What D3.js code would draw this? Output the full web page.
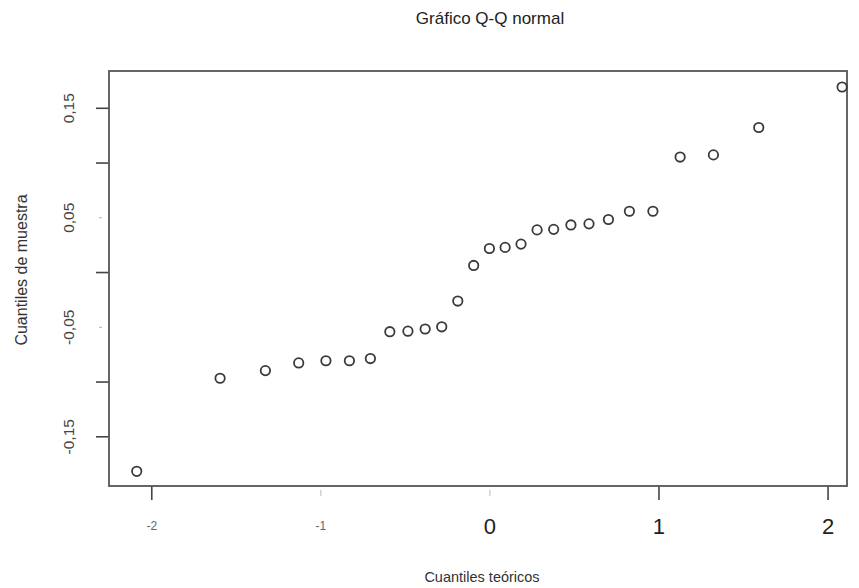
<!DOCTYPE html>
<html>
<head>
<meta charset="utf-8">
<script src="https://cdn.jsdelivr.net/npm/d3@7"></script>
<style>
  body { margin: 0; background: #fff; }
  svg { display: block; font-family: "Liberation Sans", Arial, sans-serif; }
</style>
</head>
<body>
<div id="qq"></div>
<script>
// theoretical quantiles (x) and sample quantiles (y)
let teoricos = [-2.086, -1.593, -1.325, -1.128, -0.967, -0.828, -0.704, -0.589, -0.482,
  -0.380, -0.282, -0.187, -0.093, 0, 0.093, 0.187, 0.282, 0.380, 0.482, 0.589, 0.704,
  0.828, 0.967, 1.128, 1.325, 1.593, 2.086]
let muestra = [-0.182, -0.097, -0.090, -0.083, -0.081, -0.081, -0.079, -0.0545, -0.054,
  -0.052, -0.050, -0.0265, 0.006, 0.0215, 0.0225, 0.0255, 0.0385, 0.039, 0.043, 0.044,
  0.048, 0.0555, 0.0555, 0.105, 0.107, 0.132, 0.169]

let xTicks = [-2, -1, 0, 1, 2]
let xTickLabels = ['-2', '-1', '0', '1', '2']
let yTicks = [-0.15, -0.10, -0.05, 0, 0.05, 0.10, 0.15]
let yTickLabels = ['-0,15', '', '-0,05', '', '0,05', '', '0,15']

let titulo = 'Gráfico Q-Q normal'
let xTitulo = 'Cuantiles teóricos'
let yTitulo = 'Cuantiles de muestra'

var W = 859, H = 588
var box = { left: 109, right: 847, top: 71, bottom: 486 }

// ticks drawn as tiny marks in the original
let faintX = [-1, 0]
let faintY = [-0.05, 0.05]

var x = d3.scaleLinear().domain([-2.25, 2.115]).range([box.left, box.right])
var y = d3.scaleLinear().domain([-0.1954, 0.1836]).range([box.bottom, box.top])

var svg = d3.select('#qq').append('svg')
  .attr('width', W)
  .attr('height', H)

svg.append('text')
  .attr('x', 490).attr('y', 24)
  .attr('text-anchor', 'middle')
  .style('font-size', '17px')
  .attr('fill', '#222')
  .text(titulo)

// x axis
var xAxis = d3.axisBottom(x)
  .tickValues(xTicks)
  .tickSize(14)
  .tickSizeOuter(0)
  .tickFormat((d, i) => xTickLabels[i])

var gx = svg.append('g')
  .attr('class', 'x axis')
  .attr('transform', 'translate(0,' + box.bottom + ')')
  .call(xAxis)
gx.select('.domain').remove()
gx.selectAll('.tick line')
  .attr('stroke', '#444')
  .attr('stroke-width', 1.6)
  .each(function (d) {
    if (faintX.indexOf(d) > -1) {
      d3.select(this).attr('y1', 4).attr('y2', 10).attr('stroke', '#aaa').attr('stroke-width', 0.8)
    }
  })
gx.selectAll('.tick text')
  .attr('y', 40)
  .attr('dy', '0.35em')
  .style('font-family', '"Liberation Sans", Arial, sans-serif')
  .style('font-size', d => d < 0 ? '12px' : '22px')
  .attr('fill', d => d < 0 ? '#666' : '#222')

// y axis
var yAxis = d3.axisLeft(y)
  .tickValues(yTicks)
  .tickSize(13)
  .tickSizeOuter(0)
  .tickFormat((d, i) => yTickLabels[i])

var gy = svg.append('g')
  .attr('class', 'y axis')
  .attr('transform', 'translate(' + box.left + ',0)')
  .call(yAxis)
gy.select('.domain').remove()
gy.selectAll('.tick line')
  .attr('stroke', '#444')
  .attr('stroke-width', 1.6)
  .each(function (d) {
    if (faintY.some(v => Math.abs(v - d) < 1e-9)) {
      d3.select(this).attr('x2', -10).attr('x1', -7).attr('stroke', '#999').attr('stroke-width', 0.8)
    }
  })
gy.selectAll('.tick text')
  .attr('x', null).attr('dy', null)
  .attr('transform', 'translate(-41,0) rotate(-90)')
  .attr('text-anchor', 'middle')
  .attr('dominant-baseline', 'central')
  .style('font-family', '"Liberation Sans", Arial, sans-serif')
  .style('font-size', '15.5px')
  .attr('fill', '#444')

// plot box
svg.append('rect')
  .attr('x', box.left).attr('y', box.top)
  .attr('width', box.right - box.left)
  .attr('height', box.bottom - box.top)
  .attr('fill', 'none')
  .attr('stroke', '#555')
  .attr('stroke-width', 1.8)

// points
svg.selectAll('.pt')
  .data(teoricos.map((t, i) => [t, muestra[i]]))
  .enter().append('circle')
  .attr('class', 'pt')
  .attr('cx', d => x(d[0]))
  .attr('cy', d => y(d[1]))
  .attr('r', 4.7)
  .attr('fill', 'none')
  .attr('stroke', '#3a3a3a')
  .attr('stroke-width', 1.8)

// axis titles
svg.append('text')
  .attr('x', 482).attr('y', 582)
  .attr('text-anchor', 'middle')
  .style('font-size', '14.5px')
  .attr('fill', '#333')
  .text(xTitulo)

svg.append('text')
  .attr('transform', 'translate(27,270) rotate(-90)')
  .attr('text-anchor', 'middle')
  .style('font-size', '16px')
  .attr('fill', '#333')
  .text(yTitulo)
</script>
</body>
</html>
